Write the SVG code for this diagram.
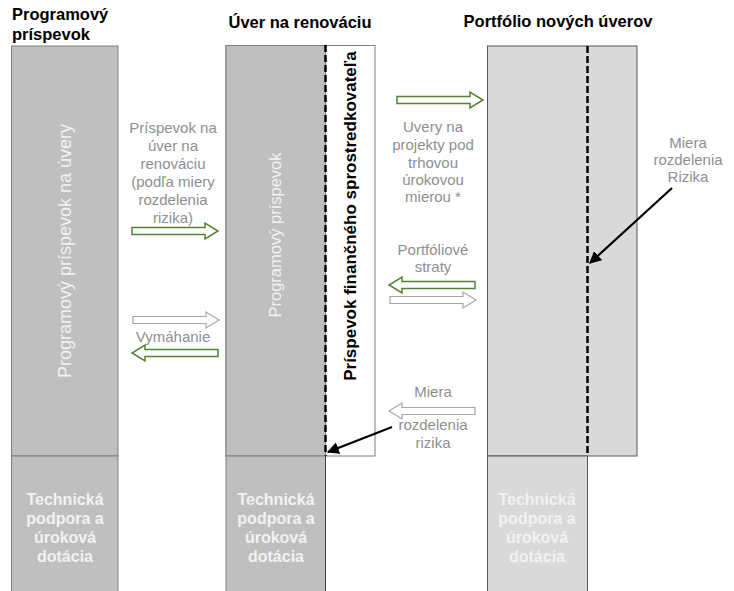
<svg xmlns="http://www.w3.org/2000/svg" width="734" height="591" viewBox="0 0 734 591">
<style>
.title{font-family:"Liberation Sans",Arial,sans-serif;font-weight:bold;font-size:16.5px;fill:#000}
.lbl{font-family:"Liberation Sans",Arial,sans-serif;font-size:15px;fill:#8f8f8f;text-anchor:middle}
.vt{font-family:"Liberation Sans",Arial,sans-serif;fill:#f2f2f2;text-anchor:middle}
.bt{font-family:"Liberation Sans",Arial,sans-serif;font-weight:bold;font-size:16px;fill:#f2f2f2;text-anchor:middle}
.dark{fill:#bfbfbf;stroke:#7f7f7f;stroke-width:1}
.light{fill:#d9d9d9;stroke:#595959;stroke-width:1}
.dash{stroke:#000;stroke-width:2.5;stroke-dasharray:7,3;fill:none}
.ga{fill:#fff;stroke:#548235;stroke-width:1.5}
.wa{fill:#fff;stroke:#a6a6a6;stroke-width:1.2}
.ptr{stroke:#000;stroke-width:2.2;fill:none;marker-end:url(#ah)}
</style>
<defs>
<path id="ba" d="M0,-3.5 H73 V-8 L86,0 L73,8 V3.5 H0 Z"/>
<marker id="ah" viewBox="0 0 10 10" refX="9" refY="5" markerWidth="5.5" markerHeight="5.5" orient="auto" markerUnits="strokeWidth">
<path d="M0,0 L10,5 L0,10 Z" fill="#000"/>
</marker>
</defs>

<g id="titles">
<text class="title" x="12" y="20">Programový</text>
<text class="title" x="12" y="40">príspevok</text>
<text class="title" x="300" y="28" text-anchor="middle">Úver na renováciu</text>
<text class="title" x="558" y="27" text-anchor="middle">Portfólio nových úverov</text>
</g>

<g id="program-prispevok">
<rect class="dark" x="11.5" y="46" width="106.5" height="410"/>
<text class="vt" font-size="18" transform="translate(71,251) rotate(-90)">Programový príspevok na úvery</text>
</g>
<g id="program-technicka">
<rect class="dark" x="11.5" y="456" width="106.5" height="140"/>
<g class="bt">
<text x="65" y="505">Technická</text>
<text x="65" y="524">podpora a</text>
<text x="65" y="543">úroková</text>
<text x="65" y="562">dotácia</text>
</g>
</g>

<g id="uver-renovacia">
<rect x="226" y="45.5" width="149" height="410.5" fill="#fff" stroke="#7f7f7f" stroke-width="1"/>
<rect x="226" y="45.5" width="99.5" height="410.5" fill="#bfbfbf" stroke="#7f7f7f" stroke-width="1"/>
<line class="dash" x1="325.5" y1="45" x2="325.5" y2="456"/>
<text class="vt" font-size="16.5" transform="translate(281,235) rotate(-90)">Programový príspevok</text>
<text transform="translate(356,216) rotate(-90)" font-family="'Liberation Sans',Arial,sans-serif" font-weight="bold" font-size="17" text-anchor="middle" fill="#000">Príspevok finančného sprostredkovateľa</text>
</g>
<g id="uver-technicka">
<rect class="dark" x="226" y="456" width="99.5" height="140"/>
<line x1="325.5" y1="456" x2="325.5" y2="591" stroke="#404040" stroke-width="1"/>
<g class="bt">
<text x="276" y="505">Technická</text>
<text x="276" y="524">podpora a</text>
<text x="276" y="543">úroková</text>
<text x="276" y="562">dotácia</text>
</g>
</g>

<g id="portfolio">
<rect class="light" x="487.5" y="46" width="149.5" height="410"/>
<line class="dash" x1="587.5" y1="46" x2="587.5" y2="456"/>
</g>
<g id="portfolio-technicka">
<rect class="light" x="487.5" y="456" width="100" height="140"/>
<g class="bt">
<text x="537" y="505">Technická</text>
<text x="537" y="524">podpora a</text>
<text x="537" y="543">úroková</text>
<text x="537" y="562">dotácia</text>
</g>
</g>

<g id="labels">
<text class="lbl" x="173" y="133">Príspevok na</text>
<text class="lbl" x="173" y="151">úver na</text>
<text class="lbl" x="173" y="169">renováciu</text>
<text class="lbl" x="173" y="187">(podľa miery</text>
<text class="lbl" x="173" y="205">rozdelenia</text>
<text class="lbl" x="173" y="223">rizika)</text>
<text class="lbl" x="173" y="342">Vymáhanie</text>
<text class="lbl" x="433" y="132">Uvery na</text>
<text class="lbl" x="433" y="150">projekty pod</text>
<text class="lbl" x="433" y="168">trhovou</text>
<text class="lbl" x="433" y="185">úrokovou</text>
<text class="lbl" x="433" y="202">mierou *</text>
<text class="lbl" x="433" y="255">Portfóliové</text>
<text class="lbl" x="433" y="272">straty</text>
<text class="lbl" x="433" y="397">Miera</text>
<text class="lbl" x="433" y="430">rozdelenia</text>
<text class="lbl" x="433" y="448">rizika</text>
<text class="lbl" x="688" y="148">Miera</text>
<text class="lbl" x="688" y="165">rozdelenia</text>
<text class="lbl" x="688" y="182">Rizika</text>
</g>

<g id="connectors">
<use href="#ba" class="ga" transform="translate(132,231)"/>
<use href="#ba" class="wa" transform="translate(133,320)"/>
<use href="#ba" class="ga" transform="translate(218,353) scale(-1,1)"/>
<use href="#ba" class="ga" transform="translate(397,100)"/>
<use href="#ba" class="ga" transform="translate(475,285) scale(-1,1)"/>
<use href="#ba" class="wa" transform="translate(390,300)"/>
<use href="#ba" class="wa" transform="translate(475,411) scale(-1,1)"/>
<line class="ptr" x1="392" y1="427" x2="328" y2="452"/>
<line class="ptr" x1="672" y1="188" x2="590" y2="263"/>
</g>
</svg>
